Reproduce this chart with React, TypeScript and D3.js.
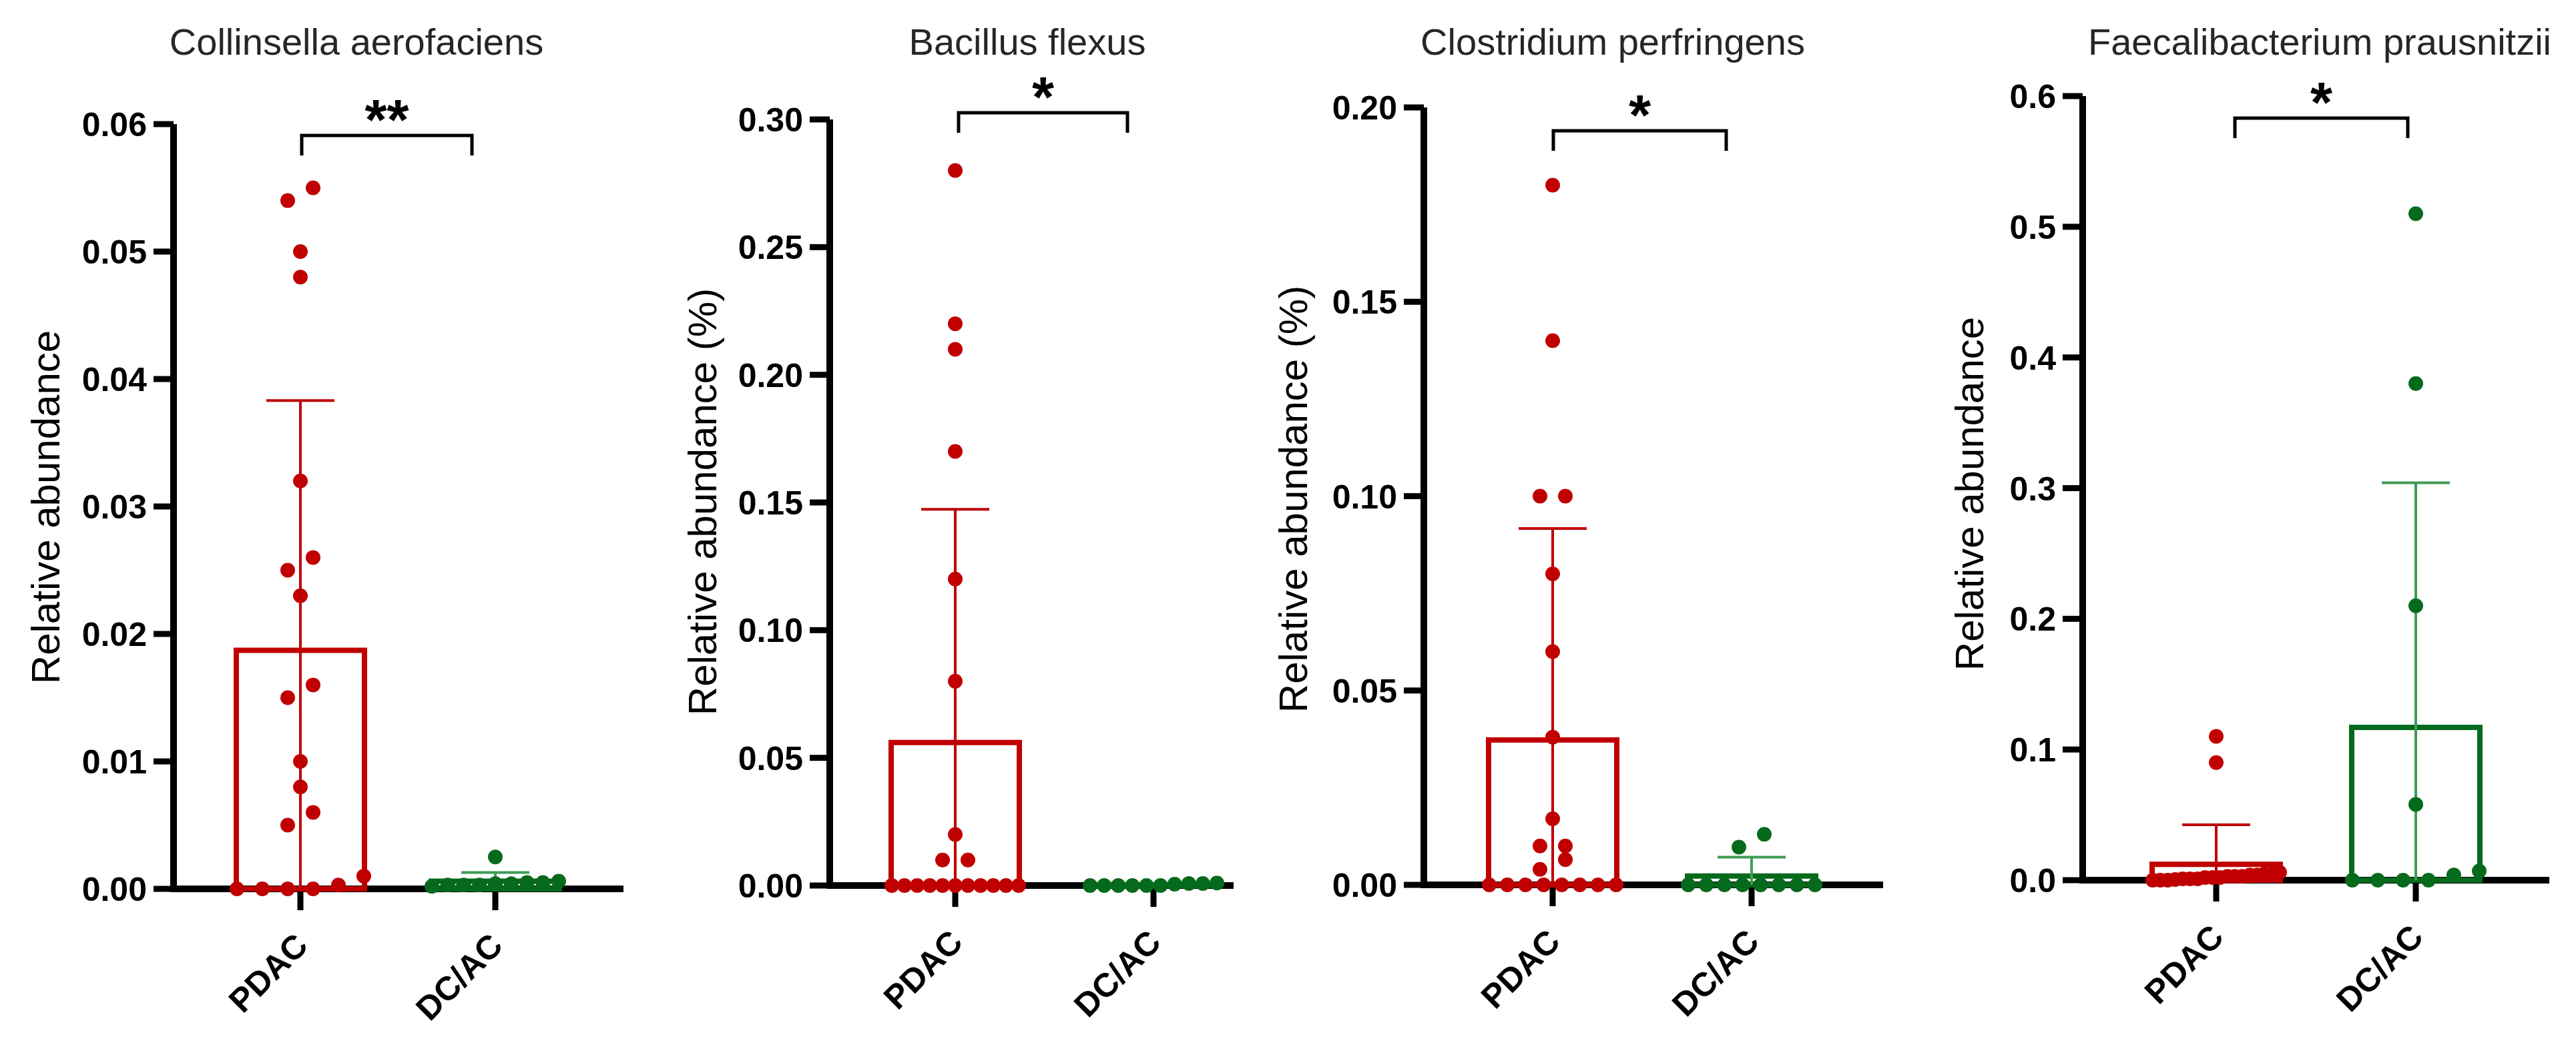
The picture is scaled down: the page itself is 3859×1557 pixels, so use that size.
import React from "react";
import * as d3 from "d3";

const W = 3859;
const H = 1557;
const RED = "#c00000";
const GREEN = "#066a1c";
const GREEN_ERR = "#3f9b55";
const FONT = "'Liberation Sans', Arial, Helvetica, sans-serif";

// data
const groups = ["PDAC", "DC/AC"];
const titles = ["Collinsella aerofaciens", "Bacillus flexus", "Clostridium perfringens", "Faecalibacterium prausnitzii"];
const yTitles = ["Relative abundance", "Relative abundance (%)", "Relative abundance (%)", "Relative abundance"];
const yMaxes = [0.06, 0.3, 0.2, 0.6];
const yTickSteps = [0.01, 0.05, 0.05, 0.1];
const tickDigits = [2, 2, 2, 1];
const stars = ["**", "*", "*", "*"];

const collinsellaPDAC = [0.055, 0.054, 0.05, 0.048, 0.032, 0.026, 0.025, 0.023, 0.016, 0.015, 0.01, 0.008, 0.006, 0.005, 0.001, 0.0003, 0, 0, 0, 0];
const collinsellaDCAC = [0.0025, 0.0006, 0.0005, 0.0005, 0.0004, 0.0004, 0.0003, 0.0003, 0.0002, 0.0003];
const bacillusPDAC = [0.28, 0.22, 0.21, 0.17, 0.12, 0.08, 0.02, 0.01, 0.01, 0, 0, 0, 0, 0, 0, 0, 0, 0, 0, 0];
const bacillusDCAC = [0.001, 0.0008, 0.0008, 0.0005, 0, 0, 0, 0, 0, 0];
const clostridiumPDAC = [0.18, 0.14, 0.1, 0.1, 0.08, 0.06, 0.038, 0.017, 0.01, 0.01, 0.0065, 0.004, 0, 0, 0, 0, 0, 0, 0, 0];
const clostridiumDCAC = [0.013, 0.0097, 0, 0, 0, 0, 0, 0, 0, 0];
const faecaliPDAC = [0.11, 0.09, 0.006, 0.005, 0.005, 0.004, 0.004, 0.003, 0.003, 0.003, 0.002, 0.002, 0.002, 0.001, 0.001, 0.001, 0.0005, 0, 0, 0];
const faecaliDCAC = [0.51, 0.38, 0.21, 0.058, 0.007, 0.004, 0, 0, 0, 0];

const panelValues = [
  [collinsellaPDAC, collinsellaDCAC],
  [bacillusPDAC, bacillusDCAC],
  [clostridiumPDAC, clostridiumDCAC],
  [faecaliPDAC, faecaliDCAC],
];

// panel geometry (pixels)
const layouts = [
  { axisX: 260, yTop: 186, y0: 1332, xEnd: 934, xs: [450, 742], br: [452, 707], brY: 203, titleX: 534, yLabX: 67, yLabY: 760 },
  { axisX: 1243, yTop: 179, y0: 1327, xEnd: 1848, xs: [1431, 1728], br: [1436, 1689], brY: 169, titleX: 1539, yLabX: 1051, yLabY: 752 },
  { axisX: 2133, yTop: 161, y0: 1326, xEnd: 2821, xs: [2326, 2624], br: [2327, 2586], brY: 196, titleX: 2416, yLabX: 1936, yLabY: 748 },
  { axisX: 3120, yTop: 144, y0: 1319, xEnd: 3819, xs: [3320, 3619], br: [3348, 3607], brY: 177, titleX: 3475, yLabX: 2949, yLabY: 740 },
];

const R = 11;
const BAR_W = 192;
const CAP_HALF = 51;
const SPREAD = 190;
const MAX_STEP = 38;

// simple row-based scatter spread, like Prism's column scatter
function swarm(values: number[], y: (v: number) => number) {
  const order = values.map((_, i) => i).sort((a, b) => values[a] - values[b]);
  const rows: number[][] = [];
  let cur: number[] = [];
  let startY: number | null = null;
  for (const i of order) {
    const py = y(values[i]);
    if (startY === null || Math.abs(py - startY) <= 2 * R) {
      if (startY === null) startY = py;
      cur.push(i);
    } else {
      rows.push(cur);
      cur = [i];
      startY = py;
    }
  }
  if (cur.length) rows.push(cur);
  const dx = new Array(values.length).fill(0);
  rows.forEach((row) => {
    const n = row.length;
    const step = n > 1 ? Math.min(MAX_STEP, SPREAD / (n - 1)) : 0;
    row.forEach((i, k) => (dx[i] = (k - (n - 1) / 2) * step));
  });
  return dx;
}

function Panel({ p }: { p: number }) {
  const L = layouts[p];
  const y = d3.scaleLinear().domain([0, yMaxes[p]]).range([L.y0, L.yTop]);
  const x = d3.scalePoint<string>().domain(groups).range(L.xs);
  const ticks = d3.range(0, yMaxes[p] + yTickSteps[p] / 2, yTickSteps[p]);
  const colors = [RED, GREEN];
  const errColors = [RED, GREEN_ERR];

  return (
    <g>
      <text x={L.titleX} y={82} textAnchor="middle" fontFamily={FONT} fontSize={56} fill="#262626">
        {titles[p]}
      </text>
      <text
        transform={`translate(${L.yLabX},${L.yLabY}) rotate(-90)`}
        dy="0.36em"
        textAnchor="middle"
        fontFamily={FONT}
        fontSize={60}
        fill="#000"
      >
        {yTitles[p]}
      </text>

      {/* axes */}
      <line x1={L.axisX} x2={L.axisX} y1={y(yMaxes[p])} y2={L.y0} stroke="#000" strokeWidth={10} />
      <line x1={L.axisX - 5} x2={L.xEnd} y1={L.y0} y2={L.y0} stroke="#000" strokeWidth={10} />
      {ticks.map((t) => (
        <g key={t}>
          <line x1={L.axisX - 30} x2={L.axisX} y1={y(t)} y2={y(t)} stroke="#000" strokeWidth={9} />
          <text
            x={L.axisX - 40}
            y={y(t)}
            dy="0.36em"
            textAnchor="end"
            fontFamily={FONT}
            fontWeight="bold"
            fontSize={50}
            fill="#000"
          >
            {t.toFixed(tickDigits[p])}
          </text>
        </g>
      ))}
      {groups.map((g) => (
        <g key={g}>
          <line x1={x(g)} x2={x(g)} y1={L.y0} y2={L.y0 + 32} stroke="#000" strokeWidth={9} />
          <text
            transform={`translate(${(x(g) as number) + 14},${L.y0 + 88}) rotate(-45)`}
            textAnchor="end"
            fontFamily={FONT}
            fontWeight="bold"
            fontSize={50}
            fill="#000"
          >
            {g}
          </text>
        </g>
      ))}

      {/* bars, error bars, points */}
      {groups.map((g, gi) => {
        const vals = panelValues[p][gi];
        const mean = d3.mean(vals) as number;
        const sd = d3.deviation(vals) as number;
        const cx = x(g) as number;
        const dx = swarm(vals, y);
        return (
          <g key={g}>
            <rect
              x={cx - BAR_W / 2}
              y={y(mean)}
              width={BAR_W}
              height={L.y0 - y(mean)}
              fill="none"
              stroke={colors[gi]}
              strokeWidth={8}
            />
            <line x1={cx} x2={cx} y1={L.y0} y2={y(mean + sd)} stroke={errColors[gi]} strokeWidth={4} />
            <line x1={cx - CAP_HALF} x2={cx + CAP_HALF} y1={y(mean + sd)} y2={y(mean + sd)} stroke={errColors[gi]} strokeWidth={4} />
            {vals.map((v, i) => (
              <circle key={i} cx={cx + dx[i]} cy={y(v)} r={R} fill={colors[gi]} />
            ))}
          </g>
        );
      })}

      {/* significance bracket */}
      <path
        d={`M${L.br[0]},${L.brY + 30}V${L.brY}H${L.br[1]}V${L.brY + 30}`}
        fill="none"
        stroke="#000"
        strokeWidth={5}
      />
      <text
        x={(L.br[0] + L.br[1]) / 2}
        y={L.brY + 6}
        textAnchor="middle"
        fontFamily={FONT}
        fontWeight="bold"
        fontSize={85}
        fill="#000"
      >
        {stars[p]}
      </text>
    </g>
  );
}

export default function App() {
  return (
    <div style={{ position: "absolute", left: 0, top: 0, background: "#fff" }}>
      <svg width={W} height={H} viewBox={`0 0 ${W} ${H}`} style={{ display: "block" }}>
        <rect width={W} height={H} fill="#fff" />
        {layouts.map((_, p) => (
          <Panel key={p} p={p} />
        ))}
      </svg>
    </div>
  );
}
